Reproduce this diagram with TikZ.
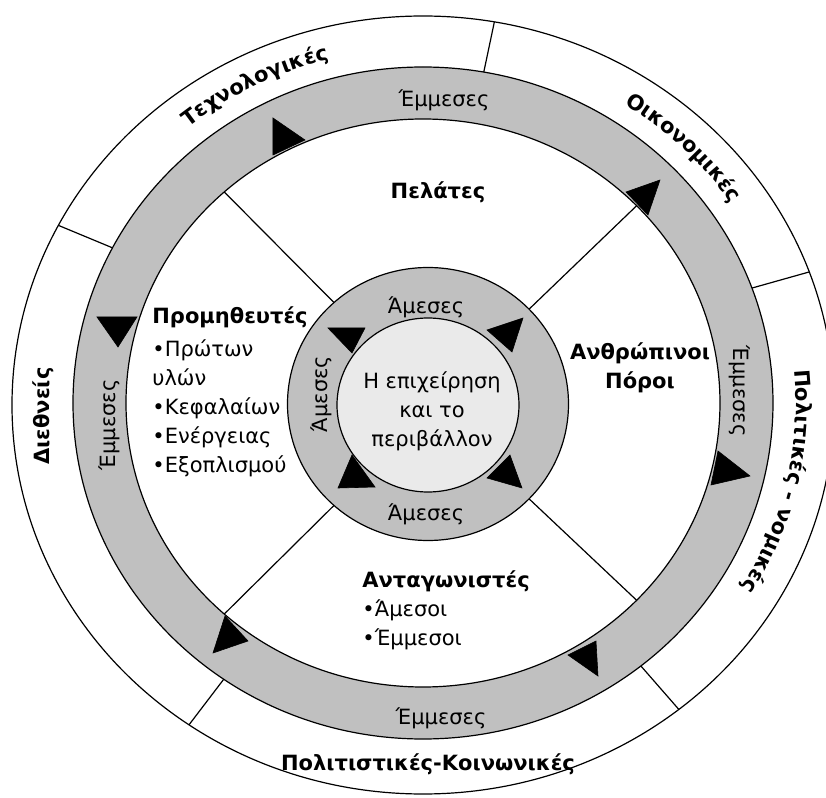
\documentclass[tikz,border=0pt]{standalone}
\usepackage{fontspec}
\setmainfont{DejaVu Sans}
\usepackage{tikz}
\usetikzlibrary{calc,decorations.text}

\definecolor{ringgray}{RGB}{192,192,192}
\definecolor{coregray}{RGB}{234,234,234}
\newcommand{\ringfont}{\fontsize{10.5}{14.5}\selectfont}
\newcommand{\outerfont}{\fontsize{10.5}{14.5}\selectfont\bfseries}

\begin{document}
\begin{tikzpicture}[
    x=0.5pt, y=0.5pt,
    edge/.style={line width=0.6pt, black},
    lbl/.style={font=\ringfont, inner sep=0pt},
    hdr/.style={font=\outerfont, inner sep=0pt, align=center},
    listtxt/.style={font=\ringfont, inner sep=0pt, align=left, anchor=north west},
    tri/.style={fill=black, draw=black, line width=0.3pt, line join=miter}
]
\path[use as bounding box, fill=white] (-423,-395) rectangle (403,403);

% centres
\coordinate (c) at (0,0);
\coordinate (mc) at (5,-1);
\coordinate (cc) at (5,-2);
\coordinate (oc) at (0,-2);

% outer frame and big ring
\draw[edge] (oc) ellipse [x radius=411, y radius=389];
\fill[ringgray, even odd rule] (c) ellipse [x radius=350, y radius=336]
    (c) ellipse [x radius=297, y radius=284];
\draw[edge] (c) ellipse [x radius=350, y radius=336];
\draw[edge] (c) ellipse [x radius=297, y radius=284];

\foreach \n/\a in {tl/152.5, tp/80, rt/20, br/-51.5, bl/-124.7}{
    \coordinate (ring-\n) at ($(c)+(\a:350 and 336)$);
    \coordinate (out-\n) at ($(oc)+(\a:411 and 389)$);
    \draw[edge] (ring-\n) -- (out-\n);
}

\foreach \n/\a in {nw/132, ne/44, sw/-132, se/-44}{
    \coordinate (mid-\n) at ($(mc)+(\a:140.5 and 136.5)$);
    \coordinate (in-\n) at ($(c)+(\a:297 and 284)$);
    \draw[edge] (mid-\n) -- (in-\n);
}

% middle ring and core
\draw[edge, fill=ringgray] (mc) ellipse [x radius=140.5, y radius=136.5];
\draw[edge, fill=coregray] (cc) ellipse [x radius=91, y radius=87];

% arrow heads, big ring
\filldraw[tri] (-150,285) -- (-150,248) -- (-118,263) -- cycle;
\filldraw[tri] (237,223) -- (203,211) -- (225,188) -- cycle;
\filldraw[tri] (-326,86) -- (-286,86) -- (-305,56) -- cycle;
\filldraw[tri] (295,-48) -- (327,-73) -- (288,-82) -- cycle;
\filldraw[tri] (-198,-213) -- (-175,-238) -- (-210,-250) -- cycle;
\filldraw[tri] (145,-252) -- (173,-238) -- (175,-273) -- cycle;
% arrow heads, middle ring
\filldraw[tri] (-95,75) -- (-58,75) -- (-71,50) -- cycle;
\filldraw[tri] (64,73) -- (100,85) -- (89,51) -- cycle;
\filldraw[tri] (-71,-52) -- (-85,-85) -- (-48,-84) -- cycle;
\filldraw[tri] (87,-52) -- (64,-75) -- (99,-85) -- cycle;

% texts
\node[lbl, align=center] (core) at (9,-8) {Η επιχείρηση\\και το\\περιβάλλον};
\node[lbl] (dir-top) at (3,96) {Άμεσες};
\node[lbl] (dir-bot) at (3,-111) {Άμεσες};
\node[lbl, rotate=90] (dir-left) at (-102,9) {Άμεσες};
\node[lbl] (ind-top) at (21,303) {Έμμεσες};
\node[lbl] (ind-bot) at (18,-315) {Έμμεσες};
\node[lbl, rotate=90] (ind-left) at (-314,-22) {Έμμεσες};
\node[lbl, rotate=-90] (ind-right) at (317,12) {Έμμεσες};

\node[hdr] (clients) at (15,211) {Πελάτες};
\node[hdr] (hr) at (217,35) {Ανθρώπινοι\\Πόροι};
\node[listtxt] (suppliers) at (-271,97)
    {\textbf{Προμηθευτές}\\[2pt]•Πρώτων\\υλών\\•Κεφαλαίων\\•Ενέργειας\\•Εξοπλισμού};
\node[listtxt] (rivals) at (-61,-167)
    {\textbf{Ανταγωνιστές}\\•Άμεσοι\\•Έμμεσοι};

\node[hdr, rotate=90] (intl) at (-380,-13) {Διεθνείς};
\node[hdr] (social) at (5,-361) {Πολιτιστικές-Κοινωνικές};

\path[decorate, decoration={text along path, text align=center,
    text={|\outerfont|Τεχνολογικές}}]
    ($(c)+(147:373 and 355)$) arc [start angle=147, end angle=87, x radius=373, y radius=355];
\path[decorate, decoration={text along path, text align=center,
    text={|\outerfont|Οικονομικές}}]
    ($(c)+(75:373 and 355)$) arc [start angle=75, end angle=16, x radius=373, y radius=355];
\path[decorate, decoration={text along path, text align=center,
    text={|\outerfont|Πολιτικές - νομικές}}]
    ($(c)+(17:373 and 355)$) arc [start angle=17, end angle=-43, x radius=373, y radius=355];
\end{tikzpicture}
\end{document}
